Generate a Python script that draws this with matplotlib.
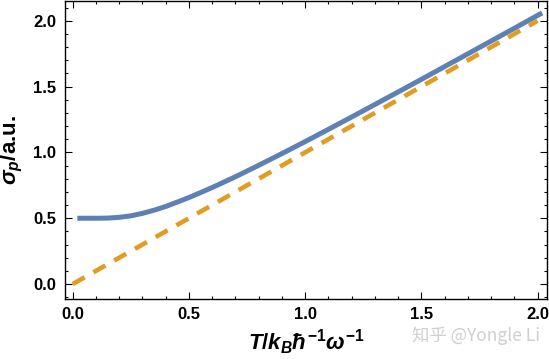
import matplotlib
matplotlib.use("Agg")
import matplotlib.pyplot as plt
from matplotlib.ticker import MultipleLocator, FormatStrFormatter

# temperature values and thermal momentum spread
T = [0.02, 0.1, 0.15, 0.2, 0.25, 0.3, 0.35, 0.4, 0.5, 0.6, 0.7, 0.8, 0.9, 1.0,
     1.1, 1.2, 1.3, 1.4, 1.5, 1.6, 1.7, 1.8, 1.9, 2.0, 2.02]
sigma_p = [0.500, 0.500, 0.501, 0.507, 0.518, 0.537, 0.561, 0.589, 0.657, 0.733,
           0.815, 0.902, 0.991, 1.082, 1.175, 1.269, 1.364, 1.459, 1.555, 1.652,
           1.749, 1.846, 1.943, 2.041, 2.060]
# classical limit
T_cl = [0.0, 2.0]
sigma_cl = [0.0, 2.0]

blue = "#5E81B5"
orange = "#E19C24"

plt.rcParams['font.family'] = ['Liberation Sans', 'DejaVu Sans']
plt.rcParams['mathtext.fontset'] = 'custom'
plt.rcParams['mathtext.it'] = 'Liberation Sans:italic:bold'
plt.rcParams['mathtext.rm'] = 'Liberation Sans:bold'
plt.rcParams['mathtext.bf'] = 'Liberation Sans:italic:bold'
plt.rcParams['mathtext.sf'] = 'Liberation Sans:italic:bold'

fig = plt.figure(figsize=(5.49, 3.59), dpi=100)
ax = fig.add_axes([0.118, 0.167, 0.878, 0.83])

ax.plot(T, sigma_p, color=blue, lw=3.6, solid_capstyle='butt')
ax.plot(T_cl, sigma_cl, color=orange, lw=3.3, dashes=(3, 2.2))

ax.set_xlim(-0.034, 2.04)
ax.set_ylim(-0.114, 2.15)
ax.xaxis.set_major_locator(MultipleLocator(0.5))
ax.xaxis.set_minor_locator(MultipleLocator(0.1))
ax.yaxis.set_major_locator(MultipleLocator(0.5))
ax.yaxis.set_minor_locator(MultipleLocator(0.1))
ax.xaxis.set_major_formatter(FormatStrFormatter('%.1f'))
ax.yaxis.set_major_formatter(FormatStrFormatter('%.1f'))
ax.tick_params(which='both', direction='in', top=True, right=True, width=0.8)
ax.tick_params(which='major', length=5, labelsize=12, pad=6)
ax.tick_params(which='minor', length=2.5)
for lab in ax.get_xticklabels() + ax.get_yticklabels():
    lab.set_fontweight('bold')
for s in ax.spines.values():
    s.set_linewidth(1.0)

ax.set_xlabel('$T/k_B ħ^{-1} ω^{-1}$', fontsize=16, labelpad=4)
ax.set_ylabel('$σ_p$/a.u.', fontsize=16, fontweight='bold', labelpad=6)

fig.text(0.75, 0.05, '知乎 @Yongle Li', fontsize=12.5, color='#cfcfcf',
         family=['Noto Sans CJK SC', 'DejaVu Sans'])

fig.savefig("out.png", dpi=100)
